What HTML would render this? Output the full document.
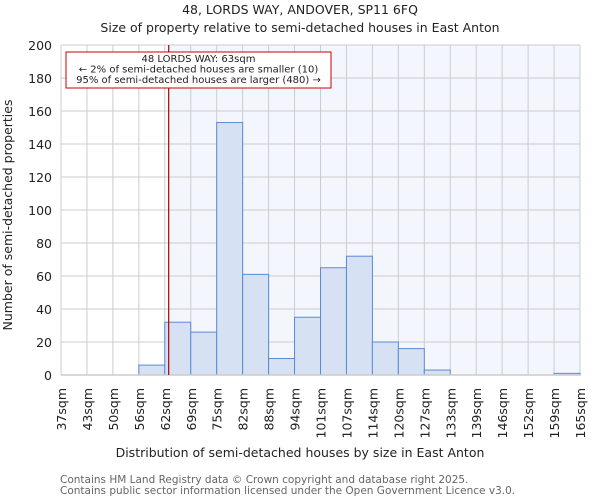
<!DOCTYPE html>
<html><head><meta charset="utf-8"><style>
body{margin:0;background:#fff;font-family:"DejaVu Sans","Liberation Sans",sans-serif;}
svg text{font-family:"DejaVu Sans","Liberation Sans",sans-serif;}
</style></head><body>
<svg id="chart" width="600" height="500" viewBox="0 0 600 500" xmlns="http://www.w3.org/2000/svg">
<text x="300" y="14" text-anchor="middle" font-size="12.5" fill="#222">48, LORDS WAY, ANDOVER, SP11 6FQ</text>
<text x="300" y="32" text-anchor="middle" font-size="12.5" fill="#222">Size of property relative to semi-detached houses in East Anton</text>
<g id="plot"></g>
<text x="300" y="457" text-anchor="middle" font-size="12.5" fill="#222">Distribution of semi-detached houses by size in East Anton</text>
<text transform="translate(12,215) rotate(-90)" text-anchor="middle" font-size="12.5" fill="#222">Number of semi-detached properties</text>
<text x="60" y="483" font-size="10.5" fill="#666">Contains HM Land Registry data © Crown copyright and database right 2025.</text>
<text x="60" y="494" font-size="10.5" fill="#666">Contains public sector information licensed under the Open Government Licence v3.0.</text>
</svg>
<script>
const categories=["37sqm","43sqm","50sqm","56sqm","62sqm","69sqm","75sqm","82sqm","88sqm","94sqm","101sqm","107sqm","114sqm","120sqm","127sqm","133sqm","139sqm","146sqm","152sqm","159sqm","165sqm"];
const counts=[0,0,0,6,32,26,153,61,10,35,65,72,20,16,3,0,0,0,0,1];
const yTicks=[0,20,40,60,80,100,120,140,160,180,200];
const markerBin=4.15;
const L=61,R=580,T=45,B=375,NS="http://www.w3.org/2000/svg";
const nb=counts.length;
const xs=i=>L+(R-L)*i/nb;
const ys=v=>B-(B-T)*v/200;
const g=document.getElementById('plot');
function mk(t,a){const e=document.createElementNS(NS,t);for(const k in a)e.setAttribute(k,a[k]);g.appendChild(e);return e;}
const mx=xs(markerBin);
let e=mk('rect',{x:mx,y:T,width:R-mx,height:B-T,fill:'#f3f6fd'});


for(const v of yTicks){
 e=mk('line',{x1:L,x2:R,y1:ys(v),y2:ys(v),stroke:'#ccc','stroke-width':1});
 
 
 e=mk('text',{x:L-9,y:ys(v)+5,'text-anchor':'end','font-size':12.5,fill:'#222'});e.textContent=v;
 
 
}
for(let i=0;i<=nb;i++){
 e=mk('line',{x1:xs(i),x2:xs(i),y1:T,y2:B,stroke:'#ccc','stroke-width':1});
 
 
}
counts.forEach((c,i)=>{
 if(c<=0)return;
 e=mk('rect',{x:xs(i),y:ys(c),width:xs(i+1)-xs(i),height:B-ys(c),fill:'#d6e1f3',stroke:'#5a8bd6','stroke-width':1});
 
 
});
e=mk('line',{x1:L,x2:R,y1:B,y2:B,stroke:'#ccc','stroke-width':1.5});


categories.forEach((c,i)=>{
 const x=xs(i);
 e=mk('text',{transform:`translate(${x+5},388) rotate(-90)`,'text-anchor':'end','font-size':12.5,fill:'#222'});e.textContent=c;
 
 
});
e=mk('line',{x1:mx,x2:mx,y1:T,y2:B,stroke:'#a00','stroke-width':1.2});


e=mk('rect',{x:66,y:52,width:265,height:36,fill:'#fff',stroke:'#c00','stroke-width':1});


const ann=["48 LORDS WAY: 63sqm","← 2% of semi-detached houses are smaller (10)","95% of semi-detached houses are larger (480) →"];
ann.forEach((t,i)=>{
 e=mk('text',{x:198.5,y:62+i*10.5,'text-anchor':'middle','font-size':10,fill:'#222'});e.textContent=t;
 
 
});
</script>
</body></html>
